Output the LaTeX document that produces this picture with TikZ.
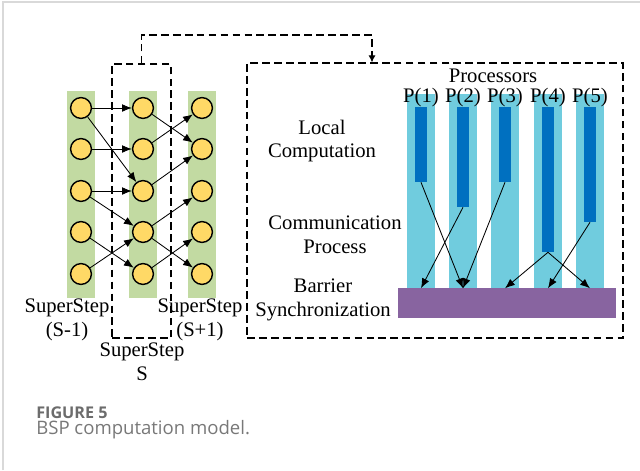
\documentclass[tikz,border=0pt]{standalone}
\usepackage{fontspec}
\setmainfont{Liberation Serif}
\newfontfamily\capfont{Open Sans}
\usepackage{tikz}
\usetikzlibrary{positioning, arrows.meta, fit}
\definecolor{stepgreen}{RGB}{194,218,162}
\definecolor{dotyellow}{RGB}{255,217,102}
\definecolor{proccyan}{RGB}{112,204,222}
\definecolor{workblue}{RGB}{0,112,192}
\definecolor{syncpurple}{RGB}{136,100,160}
\definecolor{capgray}{RGB}{120,120,120}

\begin{document}
\begin{tikzpicture}[x=0.025cm, y=-0.025cm,
    lbl/.style={font=\fontsize{14.7}{17}\selectfont, align=center, inner sep=0},
    dot/.style={circle, draw, line width=1pt, fill=dotyellow, minimum size=0.52cm, inner sep=0},
    link/.style={-{Latex[length=7pt, width=5.5pt]}, line width=0.6pt},
    dashbox/.style={draw, dash pattern=on 5.5pt off 3pt, line width=0.8pt, inner sep=0},
    slab/.style={inner sep=0}]
    \useasboundingbox (0,0) rectangle (640,470);
    \draw[gray!30, line width=1pt] (3,470) -- (3,2) -- (640,2);

    % Supersteps
    \foreach \c/\x in {1/81, 2/143, 3/202} {
        \node[slab, fill=stepgreen, fit={(\x-14,91) (\x+14,298)}] (g\c) {};
        \foreach \r/\y in {1/108, 2/149, 3/191, 4/232, 5/274}
            \node[dot] (c\c\r) at (\x,\y) {};
    }
    \foreach \a/\b in {11/21, 11/23, 12/22, 13/23, 13/24, 14/25, 15/24,
                       21/32, 22/31, 23/32, 24/33, 24/35, 25/34}
        \draw[link] (c\a) -- (c\b);
    \node[dashbox, fit={(112,64) (171,338)}] (sbox) {};
    \node[lbl] (s1) at (67,320) {SuperStep\\(S-1)};
    \node[lbl] (s3) at (200,320) {SuperStep\\(S+1)};
    \node[lbl] (s2) at (142,362) {SuperStep\\S};

    % Processors
    \node[dashbox, fit={(247,63) (623,338)}] (pbox) {};
    \coordinate (turn) at (372,35);
    \draw[dash pattern=on 5.5pt off 3pt, line width=0.8pt, -{Latex[length=5pt, width=5pt]}]
        (sbox.north) |- (turn) -- (turn |- pbox.north);
    \node[lbl] (procs) at (493,76) {Processors};
    \foreach \i/\x/\e in {1/421/182, 2/463/207, 3/505/182, 4/548/252, 5/590/222} {
        \node[slab, fill=proccyan, fit={(\x-14,94) (\x+14,288)}] (p\i) {};
        \node[slab, fill=workblue, fit={(\x-6,107) (\x+6,\e)}] (w\i) {};
        \node[lbl] (l\i) at (\x,98) {P(\i)};
    }
    \node[slab, fill=syncpurple, fit={(398,288) (616,318)}] (sync) {};
    \foreach \a/\b in {1/2, 2/1, 3/2, 4/3, 4/5, 5/4}
        \draw[link] (w\a.south) -- (p\b.south);
    \node[lbl] (local) at (322,141) {Local\\Computation};
    \node[lbl] (comm) at (335,235) {Communication\\Process};
    \node[lbl] (barrier) at (323,300) {Barrier\\Synchronization};

    % Caption
    \node[anchor=west, inner sep=0, text=capgray!90!black, font=\capfont\bfseries\fontsize{11.5}{13}\selectfont] (fig) at (36,413) {FIGURE 5};
    \node[anchor=west, inner sep=0, text=capgray, font=\capfont\fontsize{13.2}{15}\selectfont] (cap) at (36,430) {BSP computation model.};
\end{tikzpicture}
\end{document}
